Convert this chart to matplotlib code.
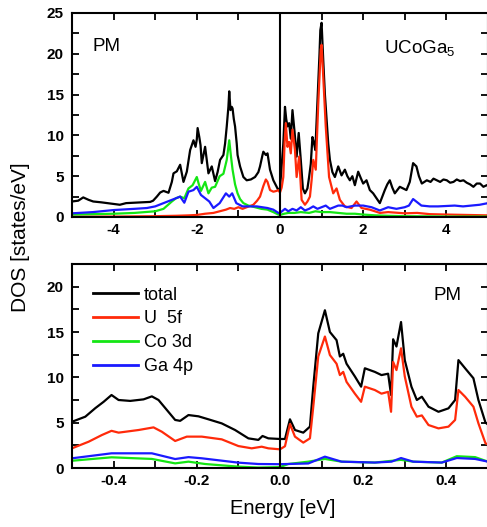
import numpy as np
import matplotlib
matplotlib.use("Agg")
import matplotlib.pyplot as plt
from matplotlib.ticker import MultipleLocator

plt.rcParams['font.family'] = ['Liberation Sans', 'DejaVu Sans']
plt.rcParams['mathtext.fontset'] = 'custom'
plt.rcParams['mathtext.rm'] = 'Liberation Sans'
plt.rcParams['mathtext.it'] = 'Liberation Sans'

# ---- wide energy window (eV) ----
wide_total_E = [-5.0, -4.85, -4.73, -4.6, -4.49, -4.3, -4.0, -3.85, -3.7, -3.52, -3.35, -3.12, -3.05,
                -2.96, -2.88, -2.80, -2.68, -2.60, -2.56, -2.48, -2.40, -2.32, -2.24, -2.16, -2.08,
                -2.03, -2.0, -1.98, -1.94, -1.91, -1.88, -1.80, -1.76, -1.72, -1.64, -1.56, -1.50,
                -1.44, -1.36, -1.32, -1.28, -1.24, -1.22, -1.19, -1.16, -1.14, -1.11, -1.08, -1.04,
                -1.02, -0.96, -0.88, -0.80, -0.70, -0.60, -0.52, -0.48, -0.42, -0.40, -0.34, -0.30,
                -0.24, -0.16, -0.10, -0.04, 0.0, 0.04, 0.08, 0.12, 0.15, 0.18, 0.22, 0.26, 0.30,
                0.35, 0.40, 0.45, 0.50, 0.55, 0.60, 0.66, 0.70, 0.74, 0.78, 0.82, 0.85, 0.91, 0.95,
                0.97, 1.00, 1.04, 1.08, 1.12, 1.16, 1.20, 1.26, 1.32, 1.40, 1.48, 1.56, 1.62, 1.68,
                1.74, 1.80, 1.88, 1.94, 2.00, 2.08, 2.16, 2.24, 2.32, 2.40, 2.46, 2.52, 2.58, 2.64,
                2.70, 2.76, 2.82, 2.88, 2.96, 3.04, 3.12, 3.20, 3.28, 3.34, 3.41, 3.47, 3.53, 3.62,
                3.69, 3.77, 3.85, 3.93, 4.01, 4.09, 4.17, 4.25, 4.33, 4.41, 4.49, 4.57, 4.65, 4.73,
                4.81, 4.89, 4.97, 5.0]
wide_total = [1.9, 2.0, 2.4, 2.1, 1.9, 1.8, 1.6, 1.5, 1.7, 1.75, 1.8, 1.85, 2.0,
              2.5, 3.0, 3.2, 2.97, 4.3, 5.35, 5.6, 6.4, 4.3, 5.55, 8.2, 9.4,
              8.6, 9.5, 10.9, 9.8, 8.8, 6.6, 8.6, 7.0, 5.35, 6.2, 4.4, 5.5,
              7.0, 7.6, 9.0, 11.1, 13.5, 15.4, 13.1, 13.5, 13.3, 12.0, 11.1, 9.0,
              7.6, 6.2, 4.9, 4.5, 4.6, 4.9, 5.5, 6.2, 7.6, 8.0, 7.6, 7.8,
              5.8, 4.5, 3.9, 3.3, 3.5, 6.2, 9.0, 13.5, 12.0, 11.1, 11.5, 9.6, 13.1,
              10.45, 7.4, 10.3, 7.0, 3.5, 2.9, 3.5, 4.9, 6.5, 9.8, 9.0, 8.2, 15.2, 20.0,
              22.9, 23.8, 19.2, 15.0, 11.9, 9.0, 7.0, 5.5, 4.9, 6.2, 5.1, 5.8, 5.0, 4.5,
              5.0, 3.9, 5.55, 4.8, 4.1, 4.5, 3.3, 2.9, 2.3, 1.7, 2.5, 3.3, 4.0, 4.5,
              3.6, 2.9, 3.3, 3.7, 3.5, 3.3, 4.3, 6.6, 6.2, 5.0, 4.1, 4.3, 4.5, 4.3,
              4.7, 4.5, 4.3, 4.6, 4.5, 4.2, 4.3, 4.6, 4.4, 4.5, 4.2, 4.0, 3.7, 4.1,
              4.1, 3.7, 3.9, 3.8]

wide_u5f_E = [-5.0, -4.0, -3.0, -2.5, -2.2, -2.0, -1.8, -1.6, -1.45, -1.3, -1.2, -1.1, -1.0, -0.9,
              -0.8, -0.64, -0.55, -0.48, -0.40, -0.34, -0.30, -0.24, -0.16, -0.08, -0.04, 0.0,
              0.04, 0.08, 0.11, 0.14, 0.18, 0.22, 0.26, 0.30, 0.36, 0.40, 0.46, 0.52, 0.60, 0.66,
              0.72, 0.76, 0.80, 0.86, 0.92, 0.98, 1.0, 1.04, 1.10, 1.18, 1.28, 1.36, 1.44, 1.56,
              1.72, 1.84, 1.96, 2.16, 2.4, 2.6, 3.0, 3.3, 3.6, 4.0, 4.5, 5.0]
wide_u5f = [0.05, 0.05, 0.1, 0.15, 0.2, 0.25, 0.4, 0.5, 0.7, 0.9, 1.1, 1.0, 1.2, 1.0,
            1.2, 1.5, 2.0, 2.5, 3.8, 4.6, 4.3, 3.3, 3.1, 3.2, 3.3, 3.0,
            3.6, 4.9, 9.0, 11.5, 8.6, 9.2, 7.8, 10.7, 8.2, 4.9, 7.4, 2.1, 1.5, 1.9,
            2.5, 4.5, 7.0, 5.8, 13.9, 20.5, 21.1, 17.2, 11.1, 4.9, 2.9, 3.5, 2.1, 1.3,
            1.1, 1.9, 1.1, 0.9, 0.5, 0.6, 0.45, 0.5, 0.35, 0.3, 0.25, 0.2]

wide_co3d_E = [-5.0, -4.5, -4.0, -3.5, -3.0, -2.8, -2.6, -2.5, -2.4, -2.3, -2.2, -2.1, -2.0, -1.95,
               -1.9, -1.8, -1.72, -1.64, -1.56, -1.45, -1.36, -1.28, -1.22, -1.18, -1.14, -1.08,
               -1.02, -0.96, -0.88, -0.76, -0.6, -0.45, -0.3, -0.16, -0.04, 0.0, 0.1, 0.2, 0.35,
               0.5, 0.7, 0.85, 1.0, 1.2, 1.4, 1.6, 1.8, 2.0, 2.3, 2.6, 3.0, 3.5, 4.0, 5.0]
wide_co3d = [0.3, 0.35, 0.4, 0.5, 0.7, 1.0, 1.9, 2.3, 2.5, 2.3, 3.5, 3.9, 4.9, 4.0,
             3.2, 4.3, 2.9, 3.6, 3.7, 5.0, 5.3, 7.0, 9.4, 7.5, 5.8, 4.0,
             2.9, 2.2, 1.7, 1.4, 1.2, 1.0, 0.9, 0.6, 0.3, 0.25, 0.4, 0.5, 0.5,
             0.6, 0.5, 0.7, 0.6, 0.6, 0.5, 0.4, 0.4, 0.3, 0.2, 0.15, 0.1, 0.08, 0.05, 0.05]

wide_ga4p_E = [-5.0, -4.5, -4.0, -3.5, -3.2, -3.0, -2.8, -2.6, -2.4, -2.3, -2.2, -2.08, -2.0, -1.9,
               -1.8, -1.7, -1.6, -1.45, -1.3, -1.22, -1.15, -1.05, -0.9, -0.76, -0.56, -0.3,
               -0.16, -0.04, 0.0, 0.12, 0.2, 0.3, 0.4, 0.5, 0.6, 0.7, 0.8, 0.9, 1.0, 1.1, 1.2,
               1.3, 1.4, 1.5, 1.6, 1.8, 2.0, 2.2, 2.4, 2.6, 2.8, 3.0, 3.1, 3.2, 3.3, 3.4, 3.6,
               3.8, 4.0, 4.2, 4.4, 4.6, 4.8, 5.0]
wide_ga4p = [0.45, 0.6, 0.85, 1.0, 1.1, 1.3, 1.7, 2.1, 2.5, 1.75, 3.1, 3.3, 3.7, 2.7,
             2.3, 1.9, 1.1, 1.7, 2.9, 2.5, 2.9, 1.7, 1.3, 1.3, 1.3, 1.1,
             0.9, 0.5, 0.5, 1.0, 0.7, 1.0, 0.8, 1.2, 0.8, 1.0, 1.3, 1.0, 1.2, 1.4, 1.0,
             1.2, 1.4, 1.4, 1.2, 1.4, 1.4, 1.2, 0.8, 1.2, 1.0, 1.2, 1.4, 2.2, 1.8, 1.4, 1.3,
             1.3, 1.35, 1.4, 1.3, 1.4, 1.5, 1.7]

# ---- narrow window around the Fermi level (eV) ----
near_total_E = [-0.5, -0.468, -0.444, -0.424, -0.405, -0.388, -0.36, -0.328, -0.308, -0.292, -0.272,
                -0.252, -0.24, -0.22, -0.196, -0.172, -0.14, -0.108, -0.076, -0.052, -0.042, -0.028,
                0.0, 0.012, 0.024, 0.036, 0.056, 0.072, 0.08, 0.092, 0.108, 0.120, 0.136, 0.144,
                0.152, 0.16, 0.18, 0.195, 0.204, 0.228, 0.244, 0.26, 0.267, 0.272, 0.28, 0.291,
                0.300, 0.316, 0.329, 0.341, 0.357, 0.381, 0.405, 0.421, 0.429, 0.445, 0.465,
                0.477, 0.494, 0.5]
near_total = [5.1, 5.66, 6.6, 7.3, 8.05, 7.5, 7.4, 7.57, 7.9, 7.5, 6.4,
              5.3, 5.2, 5.84, 5.7, 5.37, 4.92, 4.19, 3.27, 3.1, 3.53, 3.27,
              3.2, 3.2, 5.37, 4.19, 3.9, 4.56, 8.97, 14.85, 17.4, 15.0, 14.1, 12.3,
              12.6, 11.5, 10.1, 8.97, 11.0, 10.6, 10.25, 10.4, 8.05, 14.2, 13.4, 16.1,
              11.9, 8.97, 7.5, 7.86, 6.76, 6.2, 6.58, 7.5, 11.9, 11.0, 9.9,
              7.5, 5.0, 4.8]

near_u5f_E = [-0.5, -0.46, -0.428, -0.405, -0.388, -0.34, -0.304, -0.284, -0.252, -0.224, -0.188,
              -0.14, -0.1, -0.068, -0.044, -0.028, 0.0, 0.012, 0.024, 0.036, 0.056, 0.072, 0.08,
              0.092, 0.108, 0.12, 0.136, 0.144, 0.152, 0.16, 0.18, 0.195, 0.204, 0.228, 0.244,
              0.26, 0.267, 0.272, 0.28, 0.291, 0.3, 0.316, 0.329, 0.341, 0.357, 0.381, 0.405,
              0.421, 0.429, 0.445, 0.465, 0.477, 0.494, 0.5]
near_u5f = [2.17, 2.9, 3.64, 4.1, 3.9, 4.19, 4.48, 4.0, 2.98, 3.46, 3.46,
            3.16, 2.42, 2.17, 2.35, 2.17, 2.06, 2.4, 4.85, 3.46, 2.8, 3.27, 6.76,
            12.3, 14.5, 12.46, 11.5, 10.25, 10.6, 9.5, 8.2, 7.3, 8.97, 8.6, 8.2,
            8.4, 6.2, 11.7, 10.8, 13.2, 10.1, 6.76, 5.66, 5.8, 4.74, 4.37, 4.56,
            5.3, 8.6, 7.86, 6.76, 4.93, 2.72, 2.6]

near_co3d_E = [-0.5, -0.405, -0.308, -0.252, -0.22, -0.18, -0.1, -0.052, 0.0, 0.02, 0.068, 0.108,
               0.148, 0.228, 0.291, 0.32, 0.389, 0.425, 0.469, 0.5]
near_co3d = [0.8, 1.18, 1.0, 0.51, 0.7, 0.44, 0.15, 0.05, 0.1, 0.44, 0.7, 1.0,
             0.7, 0.6, 0.9, 0.7, 0.6, 1.3, 1.2, 0.7]

near_ga4p_E = [-0.5, -0.405, -0.308, -0.252, -0.22, -0.188, -0.1, -0.052, 0.0, 0.068, 0.108,
               0.148, 0.228, 0.268, 0.291, 0.32, 0.389, 0.425, 0.469, 0.5]
near_ga4p = [1.07, 1.62, 1.62, 0.99, 1.2, 1.07, 0.59, 0.44, 0.42, 0.5, 1.25,
             0.7, 0.6, 0.7, 1.1, 0.7, 0.6, 1.1, 1.0, 0.7]

labels = ["total", "U  5f", "Co 3d", "Ga 4p"]
colors = ["#000000", "#ff2a0a", "#14e614", "#1a1aff"]

fig = plt.figure(figsize=(4.87, 5.27), dpi=100)
left = 72 / 487
width = 1.002 - left
ax1 = fig.add_axes([left, 1 - 217 / 527, width, 204 / 527])
ax2 = fig.add_axes([left, 1 - 468 / 527, width, 204 / 527])

wide = [(wide_total_E, wide_total), (wide_u5f_E, wide_u5f), (wide_co3d_E, wide_co3d), (wide_ga4p_E, wide_ga4p)]
near = [(near_total_E, near_total), (near_u5f_E, near_u5f), (near_co3d_E, near_co3d), (near_ga4p_E, near_ga4p)]

for (x, y), c, lab in zip(wide, colors, labels):
    ax1.plot(x, y, color=c, lw=1.6, label=lab)
for (x, y), c, lab in zip(near, colors, labels):
    ax2.plot(x, y, color=c, lw=1.6, label=lab)

ax1.set_xlim(-5, 5)
ax1.set_ylim(0, 25)
ax1.set_xticks([-4, -2, 0, 2, 4])
ax1.set_xticklabels(["-4", "-2", "0", "2", "4"])
ax1.xaxis.set_minor_locator(MultipleLocator(1))

ax2.set_xlim(-0.5, 0.5)
ax2.set_ylim(0, 22.5)
ax2.set_xticks([-0.4, -0.2, 0.0, 0.2, 0.4])
ax2.set_xticklabels(["-0.4", "-0.2", "0.0", "0.2", "0.4"])
ax2.xaxis.set_minor_locator(MultipleLocator(0.1))

for ax in (ax1, ax2):
    ax.axvline(0, color='black', lw=1.5)
    for s in ax.spines.values():
        s.set_linewidth(1.5)
    ax.yaxis.set_major_locator(MultipleLocator(5))
    ax.yaxis.set_minor_locator(MultipleLocator(2.5))
    ax.tick_params(which='both', direction='in', top=True, right=True,
                   length=5, width=1.3, labelsize=11)
    ax.tick_params(axis='y', pad=6)
    ax.tick_params(axis='x', pad=4)
    for t in ax.get_xticklabels() + ax.get_yticklabels():
        t.set_fontweight('bold')

ax1.text(0.05, 0.836, "PM", transform=ax1.transAxes, fontsize=13.5, va='center', ha='left')
ax1.text(0.75, 0.83, r"UCoGa$_5$", transform=ax1.transAxes, fontsize=13.5, va='center', ha='left')
ax2.text(0.87, 0.848, "PM", transform=ax2.transAxes, fontsize=13.5, va='center', ha='left')

leg = ax2.legend(loc='upper left', bbox_to_anchor=(0.034, 0.925), frameon=False,
                 fontsize=13, handlelength=2.45, handletextpad=0.35, labelspacing=0.38,
                 borderaxespad=0.0)
for line in leg.get_lines():
    line.set_linewidth(2.0)

fig.text(21 / 487, 1 - 237 / 527, "DOS [states/eV]", rotation=90, fontsize=15,
         ha='center', va='center')
fig.text(283 / 487, 1 - 509 / 527, "Energy [eV]", fontsize=14.5, ha='center', va='center')

fig.savefig("out.png", dpi=100)
